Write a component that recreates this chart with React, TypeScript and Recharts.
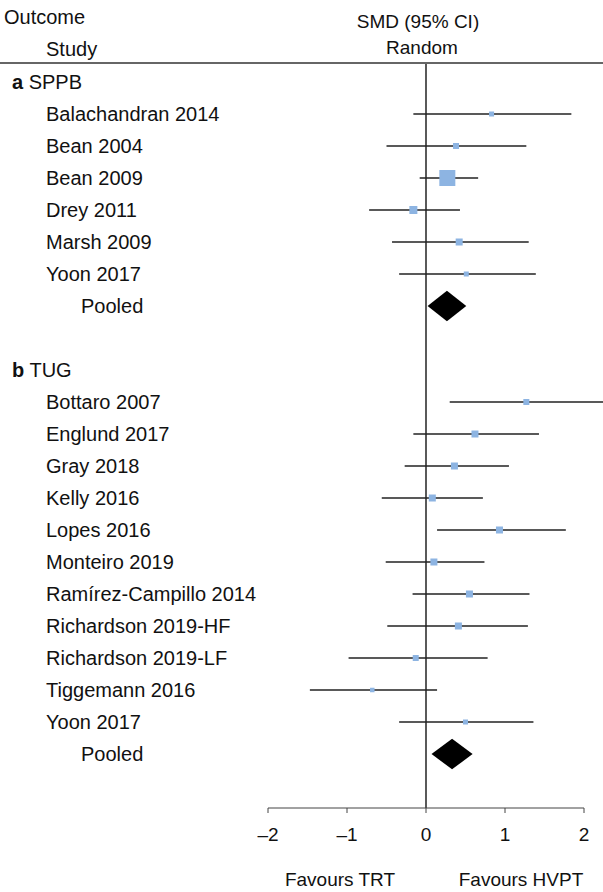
import { ScatterChart, Scatter, XAxis, YAxis, ErrorBar, ReferenceLine, ReferenceArea } from 'recharts';

const FONT = '"Liberation Sans", Arial, sans-serif';
const SQUARE = '#8DB4E2';

// a SPPB
const sppbStudies = ['Balachandran 2014', 'Bean 2004', 'Bean 2009', 'Drey 2011', 'Marsh 2009', 'Yoon 2017'];
const sppbSmd = [0.83, 0.38, 0.27, -0.16, 0.42, 0.51];
const sppbLow = [-0.16, -0.5, -0.08, -0.72, -0.43, -0.34];
const sppbHigh = [1.84, 1.27, 0.66, 0.43, 1.3, 1.39];
const sppbWeight = [5, 6, 16, 8, 7, 5];
const sppbPooled = { smd: 0.26, low: 0.02, high: 0.51 };

// b TUG
const tugStudies = [
  'Bottaro 2007', 'Englund 2017', 'Gray 2018', 'Kelly 2016', 'Lopes 2016', 'Monteiro 2019',
  'Ramírez-Campillo 2014', 'Richardson 2019-HF', 'Richardson 2019-LF', 'Tiggemann 2016', 'Yoon 2017',
];
const tugSmd = [1.27, 0.62, 0.36, 0.08, 0.93, 0.1, 0.55, 0.41, -0.13, -0.68, 0.5];
const tugLow = [0.3, -0.16, -0.27, -0.56, 0.14, -0.51, -0.17, -0.49, -0.98, -1.47, -0.34];
const tugHigh = [2.3, 1.43, 1.05, 0.72, 1.77, 0.74, 1.31, 1.29, 0.78, 0.14, 1.36];
const tugWeight = [6, 7, 7, 7, 7, 7, 7, 7, 6, 4.5, 5];
const tugPooled = { smd: 0.33, low: 0.07, high: 0.59 };

const xTicks = [-2, -1, 0, 1, 2];

type Label = { row: number; text: string; level: number; prefix?: string };

const sppbStart = 0;
const tugStart = sppbStart + sppbStudies.length + 3;

const studyRows = [
  ...sppbStudies.map((name, i) => ({
    row: sppbStart + 1 + i, name, smd: sppbSmd[i], size: sppbWeight[i],
    err: [sppbSmd[i] - sppbLow[i], sppbHigh[i] - sppbSmd[i]],
  })),
  ...tugStudies.map((name, i) => ({
    row: tugStart + 1 + i, name, smd: tugSmd[i], size: tugWeight[i],
    err: [tugSmd[i] - tugLow[i], tugHigh[i] - tugSmd[i]],
  })),
];

const pooledRows = [
  { row: sppbStart + sppbStudies.length + 1, ...sppbPooled },
  { row: tugStart + tugStudies.length + 1, ...tugPooled },
];

const labels: Label[] = [
  { row: sppbStart, text: ' SPPB', prefix: 'a', level: 0 },
  ...sppbStudies.map((t, i) => ({ row: sppbStart + 1 + i, text: t, level: 1 })),
  { row: pooledRows[0].row, text: 'Pooled', level: 2 },
  { row: tugStart, text: ' TUG', prefix: 'b', level: 0 },
  ...tugStudies.map((t, i) => ({ row: tugStart + 1 + i, text: t, level: 1 })),
  { row: pooledRows[1].row, text: 'Pooled', level: 2 },
];

const indent = [12, 46, 81];

function RowLabel(props: any) {
  const { y, payload } = props;
  const lab = labels.find((l) => l.row === payload.value);
  if (!lab) return null;
  return (
    <text x={indent[lab.level]} y={y} dy="0.35em" fontSize={20} fontFamily={FONT} fill="#111" textAnchor="start">
      {lab.prefix && <tspan fontWeight="bold">{lab.prefix}</tspan>}
      {lab.text}
    </text>
  );
}

function Square(props: any) {
  const { cx, cy, payload } = props;
  const s = payload.size;
  return <rect x={cx - s / 2} y={cy - s / 2} width={s} height={s} fill={SQUARE} />;
}

function Diamond(props: any) {
  const { x, y, width, height } = props;
  const mx = x + width / 2;
  const my = y + height / 2;
  return <polygon points={`${x},${my} ${mx},${y} ${x + width},${my} ${mx},${y + height}`} fill="#000" />;
}

const fmt = (v: number) => (v < 0 ? `\u2013${Math.abs(v)}` : `${v}`);

export default function App() {
  return (
    <div style={{ position: 'absolute', left: 0, top: 0, width: 603, height: 892, background: '#fff', fontFamily: FONT }}>
      {/* CIs that run past the axis keep going to the page edge, like the original */}
      <style>{'.forest g[clip-path] { clip-path: none !important; }'}</style>
      <ScatterChart className="forest" width={603} height={892} margin={{ top: 63, right: 19, left: 0, bottom: 24 }}>
        <XAxis
          type="number"
          dataKey="smd"
          domain={[-2, 2]}
          allowDataOverflow
          ticks={xTicks}
          tickFormatter={fmt}
          height={60}
          tickSize={5}
          tickMargin={15}
          stroke="#444"
          tick={{ fontSize: 19, fontFamily: FONT, fill: '#111' }}
        />
        <YAxis
          type="number"
          dataKey="row"
          domain={[-0.59375, 22.6875]}
          reversed
          width={268}
          ticks={labels.map((l) => l.row)}
          interval={0}
          axisLine={false}
          tickLine={false}
          tick={<RowLabel />}
        />
        <ReferenceLine x={0} stroke="#000" strokeWidth={1.3} />
        <Scatter data={studyRows} shape={<Square />} isAnimationActive={false}>
          <ErrorBar dataKey="err" direction="x" width={0} stroke="#222" strokeWidth={1.3} isAnimationActive={false} />
        </Scatter>
        {pooledRows.map((p) => (
          <ReferenceArea key={p.row} x1={p.low} x2={p.high} y1={p.row - 0.48} y2={p.row + 0.48} shape={Diamond} />
        ))}
      </ScatterChart>
      <svg width={603} height={892} style={{ position: 'absolute', left: 0, top: 0, pointerEvents: 'none' }}>
        <g fontFamily={FONT} fill="#111">
          <text x={4} y={17} dy="0.35em" fontSize={20}>Outcome</text>
          <text x={46} y={49} dy="0.35em" fontSize={20}>Study</text>
          <text x={418} y={21} dy="0.35em" fontSize={19} textAnchor="middle">SMD (95% CI)</text>
          <text x={422} y={47} dy="0.35em" fontSize={19} textAnchor="middle">Random</text>
          <text x={340} y={879} dy="0.35em" fontSize={19} textAnchor="middle">Favours TRT</text>
          <text x={521} y={879} dy="0.35em" fontSize={19} textAnchor="middle">Favours HVPT</text>
        </g>
        <line x1={0} x2={603} y1={63} y2={63} stroke="#666" strokeWidth={2} />
      </svg>
    </div>
  );
}
